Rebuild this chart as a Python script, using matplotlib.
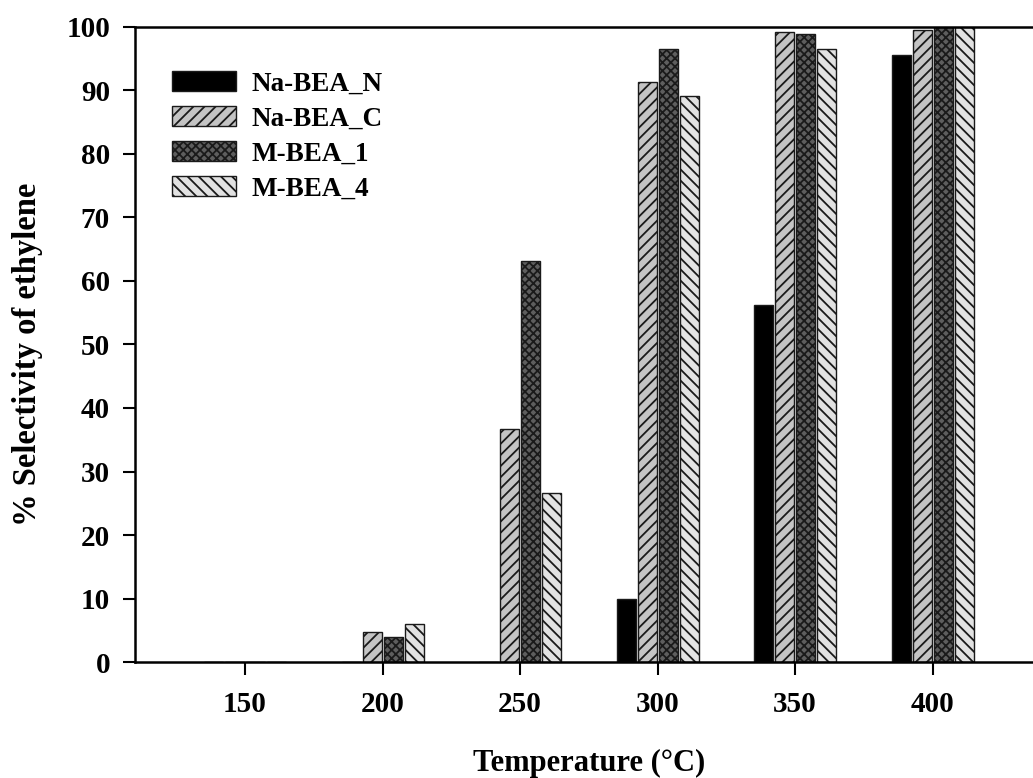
import matplotlib
matplotlib.use("Agg")
import matplotlib.pyplot as plt
import numpy as np

temperatures = [150, 200, 250, 300, 350, 400]
series_names = ["Na-BEA_N", "Na-BEA_C", "M-BEA_1", "M-BEA_4"]
na_bea_n = [0, 0, 0, 10.0, 56.2, 95.6]
na_bea_c = [0, 4.8, 36.7, 91.3, 99.1, 99.4]
m_bea_1 = [0, 4.0, 63.1, 96.5, 98.9, 100.0]
m_bea_4 = [0, 6.0, 26.6, 89.0, 96.4, 100.0]
y_ticks = [0, 10, 20, 30, 40, 50, 60, 70, 80, 90, 100]

plt.rcParams['font.family'] = ['Liberation Serif', 'DejaVu Serif']
plt.rcParams['font.weight'] = 'bold'
plt.rcParams['hatch.linewidth'] = 1.3

fig = plt.figure(figsize=(10.33, 7.78), dpi=100)
ax = fig.add_axes([0.1307, 0.1487, 1.036 - 0.1307, 0.8172])

faces = ['#000000', '#c4c4c4', '#5e5e5e', '#e2e2e2']
hatches = [None, '///', 'xxxx', '\\\\\\']
data = [na_bea_n, na_bea_c, m_bea_1, m_bea_4]
step = 7.63
width = 6.9
x = np.array(temperatures, dtype=float)
for i, (name, vals) in enumerate(zip(series_names, data)):
    offs = (i - 1.5) * step
    ax.bar(x + offs, vals, width=width, color=faces[i], edgecolor='#1a1a1a',
           linewidth=1.0, hatch=hatches[i], label=name, zorder=2)

ax.set_xlim(110, 450)
ax.set_ylim(0, 100)
ax.set_xticks(temperatures)
ax.set_xticklabels([str(t) for t in temperatures])
ax.set_yticks(y_ticks)
ax.spines['right'].set_visible(False)
for s in ['left', 'bottom', 'top']:
    ax.spines[s].set_linewidth(1.8)
ax.tick_params(axis='both', direction='out', length=9, width=1.5, labelsize=21)
ax.tick_params(axis='x', pad=12)
ax.tick_params(axis='y', pad=9)
for lab in ax.get_xticklabels() + ax.get_yticklabels():
    lab.set_fontweight('bold')

ax.set_xlabel('Temperature (°C)', fontsize=22, fontweight='bold')
ax.xaxis.set_label_coords(0.4855, -0.1355)
ax.set_ylabel('% Selectivity of ethylene', fontsize=23.5, fontweight='bold')
ax.yaxis.set_label_coords(-0.098, 0.485)

leg = ax.legend(loc='upper left', bbox_to_anchor=(0.04, 0.93), frameon=False,
                fontsize=19.5, handlelength=2.35, handleheight=0.74,
                labelspacing=0.36, handletextpad=0.58, borderpad=0, borderaxespad=0)
for t in leg.get_texts():
    t.set_fontweight('bold')

fig.savefig('out.png', dpi=100)
